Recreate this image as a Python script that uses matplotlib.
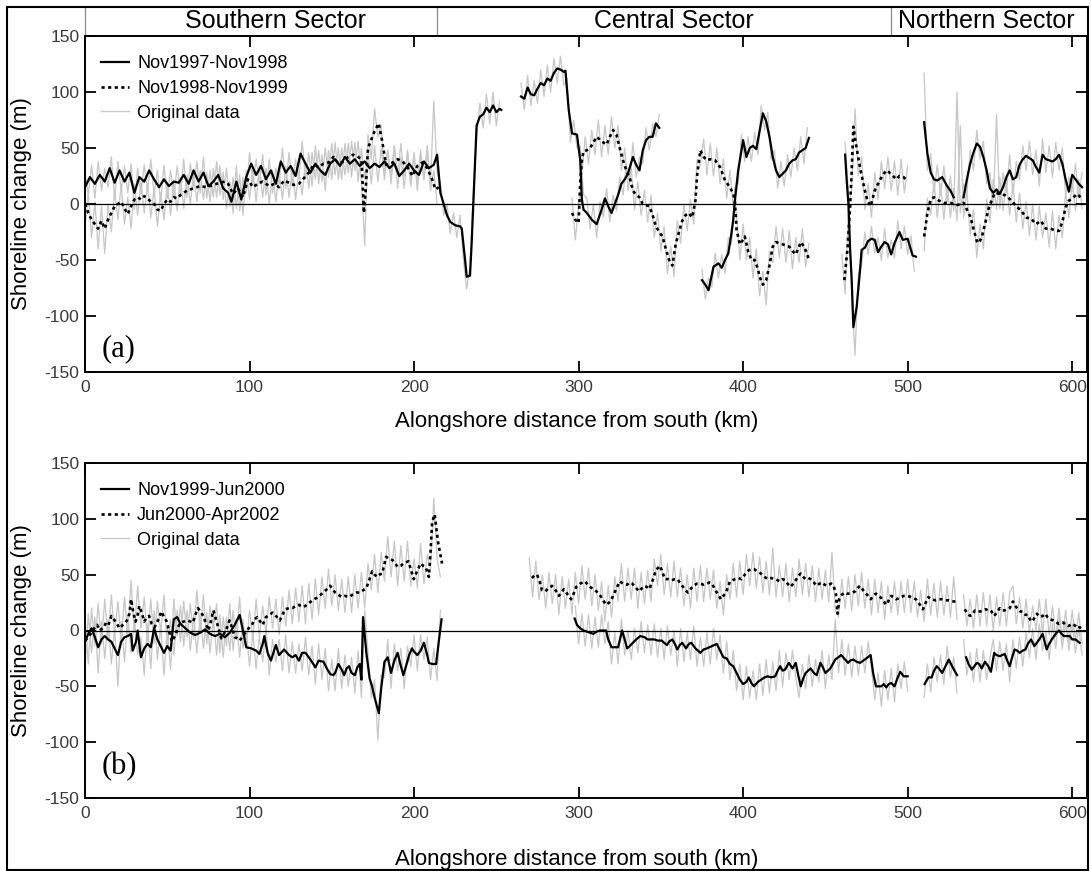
"""Shoreline change along the coast, two panels (a) and (b)."""
import numpy as np
import matplotlib

matplotlib.use("Agg")
import matplotlib.pyplot as plt
from matplotlib.patches import Rectangle

plt.rcParams["font.family"] = ["Liberation Sans", "DejaVu Sans"]
plt.rcParams["axes.unicode_minus"] = False

GAP = (np.nan, np.nan)

# ---------------- panel (a) smoothed series ----------------
a_solid = [  # Nov1997-Nov1998
    (0, 15), (3, 24), (6, 18), (9, 26), (12, 20), (15, 32), (18, 19), (21, 30), (24, 20), (27, 28),
    (30, 10), (33, 24), (36, 20), (39, 30), (42, 22), (45, 15), (48, 22), (51, 16), (54, 20), (57, 19),
    (60, 26), (63, 18), (66, 30), (69, 20), (72, 28), (75, 16), (78, 20), (81, 26), (84, 14), (87, 10),
    (89, 2), (92, 20), (95, 4), (98, 24), (101, 36), (104, 26), (107, 34), (110, 22), (113, 30), (116, 18),
    (119, 38), (122, 28), (125, 34), (128, 25), (131, 45), (134, 36), (137, 28), (140, 36), (143, 30),
    (146, 26), (149, 36), (152, 40), (155, 34), (158, 42), (161, 36), (164, 40), (167, 34), (170, 38),
    (173, 32), (176, 36), (179, 33), (182, 38), (185, 32), (188, 36), (191, 25), (194, 30), (197, 36),
    (200, 30), (203, 26), (206, 38), (209, 32), (212, 35), (214, 44), (216, 10), (218, 0), (220, -10),
    (222, -16), (225, -19), (228, -20), (229, -22), (231, -50), (232, -65), (234, -64), (235, -35),
    (236, 0), (237, 35), (238, 70), (240, 78), (242, 80), (244, 86), (246, 82), (248, 88), (250, 82),
    (252, 85), (253, 84),
    GAP,
    (265, 96), (267, 94), (269, 104), (271, 98), (273, 97), (275, 103), (277, 108), (279, 106),
    (281, 112), (283, 110), (285, 117), (287, 121), (289, 120), (291, 118), (292, 119), (294, 84),
    (296, 63), (299, 62), (301, 39), (302, 4), (303, -5), (305, -8), (308, -14), (311, -18), (314, -5),
    (316, 5), (318, -2), (320, -8), (322, 0), (324, 8), (326, 18), (328, 22), (330, 27), (333, 42),
    (335, 35), (337, 30), (339, 48), (341, 57), (343, 60), (345, 60), (347, 72), (349, 68),
    GAP,
    (375, -68), (377, -72), (379, -77), (382, -56), (385, -53), (387, -57), (389, -50), (391, -44),
    (393, -25), (394, -14), (395, 3), (397, 30), (400, 57), (402, 42), (404, 50), (406, 52), (408, 49),
    (410, 65), (412, 81), (414, 74), (416, 60), (418, 42), (420, 30), (422, 24), (424, 27), (426, 30),
    (428, 36), (430, 39), (432, 40), (434, 46), (436, 48), (438, 50), (440, 59),
    GAP,
    (462, 44), (463, 20), (464, 0), (465, -40), (466, -68), (467, -110), (469, -92), (471, -60),
    (472, -41), (474, -39), (476, -33), (478, -31), (480, -32), (482, -43), (484, -38), (486, -34),
    (488, -36), (490, -45), (492, -35), (495, -25), (497, -32), (500, -31), (503, -46), (505, -47),
    GAP,
    (510, 73), (512, 45), (514, 28), (516, 22), (518, 21), (521, 24), (524, 16), (526, 12), (528, 6),
    GAP,
    (534, 6), (536, 22), (538, 36), (540, 46), (542, 54), (544, 51), (546, 42), (548, 30), (550, 14),
    (552, 10), (554, 13), (556, 9), (558, 15), (560, 24), (562, 30), (564, 22), (566, 24), (568, 35),
    (570, 40), (572, 43), (574, 41), (576, 39), (578, 33), (580, 28), (582, 44), (584, 40), (586, 39),
    (588, 38), (590, 40), (592, 44), (594, 36), (596, 22), (598, 11), (600, 26), (602, 22), (604, 18),
    (606, 15),
]

a_dotted = [  # Nov1998-Nov1999
    (0, 0), (2, -8), (4, -14), (6, -18), (8, -22), (10, -15), (12, -22), (14, -14), (16, -8), (18, -2),
    (20, 0), (22, 2), (24, -4), (26, -9), (28, -2), (30, 4), (32, 6), (34, 4), (36, 7), (38, 5),
    (40, 2), (42, 0), (44, -5), (46, -6), (48, 0), (50, 4), (52, 2), (54, 6), (56, 5), (58, 8),
    (62, 12), (66, 14), (70, 16), (74, 15), (78, 17), (82, 19), (85, 20), (87, 18), (90, 9), (93, 14),
    (96, 6), (99, 22), (102, 15), (105, 18), (108, 20), (112, 16), (115, 18), (118, 15), (121, 21),
    (124, 19), (127, 17), (130, 18), (133, 23), (136, 28), (139, 35), (142, 33), (145, 36), (148, 37),
    (151, 42), (154, 36), (157, 38), (160, 42), (163, 44), (166, 42), (168, 40), (169, 10), (169.5, -8),
    (170.5, 10), (172, 50), (176, 65), (178.5, 72), (180.5, 57), (183, 35), (187, 37), (190, 40),
    (193, 38), (196, 33), (199, 25), (202, 34), (205, 37), (208, 32), (211, 22), (213, 13), (215, 15),
    GAP,
    (296, -8), (298, -14), (300, -17), (301, 20), (302, 39), (303, 47), (305, 48), (307, 50), (309, 55),
    (311, 60), (314, 56), (317, 53), (319, 60), (321, 66), (323, 62), (325, 50), (327, 39), (329, 30),
    (331, 24), (333, 12), (335, 8), (337, 6), (339, 0), (341, -1), (343, -2), (345, -10), (347, -20),
    (349, -25), (351, -29), (353, -40), (355, -50), (357, -55), (359, -36), (361, -25), (363, -15),
    (365, -10), (367, -8), (369, -12), (370, -5), (371, 3), (372, 25), (374, 48), (376, 42), (378, 39),
    (380, 40), (383, 39), (386, 33), (389, 21), (392, 15), (394, 9), (395, 3), (396, -23), (398, -36),
    (400, -32), (401, -29), (403, -42), (405, -50), (407, -50), (409, -58), (410, -65), (412, -72),
    (414, -68), (416, -55), (418, -38), (420, -34), (422, -35), (424, -36), (426, -37), (428, -38),
    (430, -42), (432, -45), (434, -38), (435, -34), (437, -38), (439, -45), (440, -50),
    GAP,
    (461.5, -68), (463.5, -39), (465, -3), (466, 30), (467, 69), (468.5, 54), (471, 33), (473.5, 15),
    (475.5, 3), (477.5, -2), (480, 12), (483, 21), (485, 26), (487, 30), (490, 27), (493, 22),
    (495, 25), (497.5, 24), (499.5, 21),
    GAP,
    (510, -29), (512, -8), (514, 4), (516, 6), (519, 3), (522, 1), (526, 1), (530, -1), (534, 1),
    (536, -5), (538, -11), (540, -22), (542, -33), (543, -35), (545, -30), (547, -18), (549, -5),
    (551, 3), (553, 10), (556, 9), (559, 8), (561, 6), (563, 3), (566, -2), (569, -6), (572, -12),
    (575, -13), (578, -18), (581, -15), (584, -22), (587, -22), (590, -24), (592, -24), (594, -16),
    (596, -3), (598, 3), (600, 5), (603, 9), (605, 6),
]

# ---------------- panel (b) smoothed series ----------------
b_solid = [  # Nov1999-Jun2000
    (0, -10), (2, -3), (4, 2), (6, -6), (8, -15), (10, -8), (12, -5), (14, -8), (16, -10), (18, -16),
    (20, -22), (22, -10), (24, -6), (26, -5), (28, -3), (29, -18), (31, -10), (32, 0), (34, -24),
    (36, -16), (38, -12), (40, -15), (42, 2), (44, -8), (46, -14), (48, -20), (50, -14), (52, -18),
    (54, 10), (56, 12), (58, 6), (61, 2), (64, -2), (67, -4), (70, -2), (73, 1), (76, -3), (79, -5),
    (82, -3), (85, -6), (88, -2), (91, 5), (94, 14), (96, 0), (98, -15), (101, -16), (104, -18),
    (106, -21), (108, -12), (109, -5), (111, -20), (113, -27), (116, -13), (118, -22), (121, -17),
    (124, -22), (126, -24), (128, -22), (130, -27), (132, -20), (134, -20), (137, -26), (140, -33),
    (142, -27), (145, -28), (147, -34), (149, -39), (151, -40), (152, -38), (154, -30), (156, -35),
    (157.5, -40), (159, -34), (160.5, -32), (162, -38), (164, -40), (165.5, -33), (167, -30),
    (168, -44), (169, 12), (171, -20), (173, -43), (174.5, -50), (176, -60), (178.6, -74), (180, -52),
    (182, -28), (184, -24), (186, -38), (188, -27), (190, -20), (192, -32), (193.5, -40), (195.5, -30),
    (197, -22), (198.7, -16), (200, -19), (202, -22), (204, -18), (206, -11), (208, -22), (209, -29),
    (211, -30), (213.4, -30), (215, -10), (216.7, 10),
    GAP,
    (297.6, 10.7), (299, 5), (301, 2), (303, 0), (305, -1), (307, -2), (309, -3), (311, -1), (313, 0),
    (316.7, 0), (318, -8), (320, -15), (322, -15), (324, -15), (326.5, 0), (328, -8), (329.5, -16),
    (331, -14), (333, -11), (335, -8), (337.5, -5), (340, -6), (342, -8), (344, -8), (346, -8),
    (348, -9), (350.5, -9), (352, -11), (353.7, -13), (355, -10), (357, -8), (358.5, -12), (360, -17),
    (361.5, -13), (363, -11), (365.3, -16), (367, -12), (368.5, -11), (371, -16), (374, -20),
    (376, -17), (378, -16), (381, -14), (384, -12), (386, -18), (388, -24), (390, -25), (392, -30),
    (394, -32), (396, -38), (398, -44), (400, -48), (402, -46), (403.4, -42), (405, -47), (406.6, -50),
    (409, -46), (411, -44), (413, -42), (415, -41), (417, -42), (419.5, -41), (421, -36), (422.5, -32),
    (424, -36), (425.5, -35), (427.8, -29), (430, -34), (432, -29), (433.5, -40), (435, -50),
    (436.5, -43), (438, -38), (441, -34), (443, -38), (444.7, -40), (447, -29), (448.5, -33),
    (450, -38), (453, -34), (456, -26), (459.6, -22), (462, -26), (463.8, -29), (465, -27), (467, -26),
    (469, -28), (471, -29), (474, -26), (477.5, -22), (479, -38), (480.7, -50), (482, -50), (484, -50),
    (485.5, -48), (487, -51), (488.5, -48), (490, -47), (492, -50), (494, -42), (495.5, -37),
    (497.6, -41), (500, -41),
    GAP,
    (510.3, -48), (512.6, -42), (514.6, -42), (516, -36), (517.7, -32), (519, -34), (521, -38),
    (523, -32), (525, -26), (527, -32), (528.5, -36), (530, -40),
    GAP,
    (535.5, -24), (537, -30), (539, -35), (540.5, -32), (542, -29), (543.5, -30), (545, -34), (547, -28),
    (549, -32), (550.6, -37), (552.6, -20), (554, -22), (556, -23), (557.5, -22), (559, -21),
    (560.5, -27), (562, -32), (563.5, -24), (565, -17), (566.5, -18), (568, -20), (570, -18),
    (571.6, -17), (573, -12), (575, -8), (577, -14), (578.5, -11), (580, -8), (582, -3), (584.5, -17),
    (586, -12), (587.6, -8), (589, -5), (590.5, -2), (592, 0), (593.5, -3), (595, -5), (597, -5),
    (598.5, -5), (600, -8), (602, -8), (604.5, -11),
]

b_dotted = [  # Jun2000-Apr2002
    (0, -9), (2, -6), (4, -2), (6, 3), (7.4, 5), (9, 0), (11.6, 3), (13, 8), (14.5, 6), (16, 13),
    (17.5, 10), (19, 7), (21, 2), (23, 5), (25.5, 9), (27, 15), (28, 28), (29.5, 15), (30.7, 8),
    (32, 14), (33, 22), (34.5, 16), (36, 8), (37.5, 12), (39, 13), (40.5, 6), (42.3, 3), (44, 8),
    (46.5, 17), (48, 12), (49.7, 8), (51, 0), (52.9, -10), (55, -4), (56.5, 3), (58, 7), (60, 8),
    (62.4, 9), (64, 8), (65.6, 7), (67, 14), (68.7, 20), (70, 17), (72, 13), (73.5, 6), (75, 0),
    (76.5, 8), (78, 18), (80, 8), (82.8, -7), (84, -4), (85.7, 0), (87.8, 9), (89.5, 2), (91, -6),
    (92.5, -7), (94, -9), (96, -5), (98.4, 0), (100, 3), (101.5, 5), (103, 10), (104.8, 12), (106.5, 8),
    (108, 5), (110, 12), (112, 14), (114, 16), (116, 13), (118.4, 9), (120, 14), (121.6, 19), (124, 20),
    (126, 20), (128, 22), (130, 23), (132, 21), (134, 22), (135.5, 24), (137.4, 26), (139, 28),
    (140.6, 29), (142.5, 31), (144.8, 34), (147, 37), (149, 40), (150.5, 37), (152, 34), (154, 32),
    (156, 30), (158, 31), (160.5, 30), (162.5, 32), (165, 34), (167, 34), (168, 35), (171, 38),
    (172.5, 44), (174.5, 53), (176, 50), (177.5, 48), (179, 50), (180.6, 51), (182, 60), (183, 66),
    (185, 64), (187, 63), (188.5, 60), (190, 57), (192, 58), (193.5, 60), (195, 61), (196.6, 62),
    (198, 55), (199.8, 46), (201.5, 52), (204, 60), (205.5, 58), (207, 57), (209, 48), (210, 70),
    (211, 97), (212.5, 104), (214.6, 79), (217, 60),
    GAP,
    (271.6, 47), (273, 49), (274.8, 50), (276.5, 43), (277.8, 36), (279.6, 35), (282, 38), (283.8, 40),
    (286, 36), (288, 31), (289.5, 34), (291, 37), (293, 33), (295.4, 28), (297, 33), (298.5, 39),
    (301, 42), (304, 44), (305.5, 41), (307, 39), (310, 36), (312.5, 33), (314.5, 28), (316.7, 23),
    (318.5, 25), (320, 28), (322.5, 36), (325, 44), (327, 42), (329.5, 41), (331, 43), (332.6, 42),
    (335, 38), (337, 35), (338.5, 38), (340, 40), (341.5, 39), (343, 37), (345, 45), (347, 54),
    (349.5, 58), (351, 52), (352.5, 46), (354.5, 46), (356.7, 45), (358.5, 46), (360, 46), (361.5, 43),
    (363, 40), (364.5, 37), (366.4, 34), (368, 37), (369.6, 40), (372, 42), (373.8, 42), (376, 41),
    (378, 42), (379.5, 43), (381, 42), (382.5, 38), (384, 34), (386.5, 28), (388, 31), (389.6, 34),
    (392, 44), (393.5, 45), (395, 46), (397, 47), (399, 46), (401, 50), (403.5, 54), (405, 55),
    (406.6, 55), (408.5, 53), (410.8, 51), (413, 48), (415, 46), (417, 47), (419.5, 46), (421, 45),
    (422.5, 44), (424, 46), (425.5, 45), (427, 42), (428.8, 39), (430.5, 42), (432, 45), (433.5, 49),
    (435, 51), (436.5, 48), (438, 46), (439.5, 47), (441, 46), (443, 43), (444.7, 40), (446.5, 42),
    (448, 43), (449.5, 41), (451, 40), (453.5, 42), (455, 40), (456.4, 33), (457.4, 15), (458.4, 28),
    (460, 32), (461.6, 34), (463, 33), (464.8, 33), (466.5, 34), (468, 35), (469.5, 38), (471, 40),
    (472.5, 37), (474, 34), (476, 31), (477.6, 28), (479, 31), (480.7, 33), (482.5, 31), (484, 29),
    (485.5, 26), (487, 23), (488.5, 27), (490, 31), (491.5, 30), (493, 28), (495, 29), (497.6, 31),
    (500, 31), (501.9, 30), (503.5, 29), (505, 28), (507, 24), (509.3, 19), (511, 25), (512.6, 30),
    (514.5, 28), (516.8, 27), (519, 28), (521, 28), (523, 27), (525, 27), (527, 26), (529.5, 26),
    GAP,
    (534.7, 19), (536, 16), (538, 13), (539.5, 15), (541, 18), (542.5, 17), (544, 17), (546, 18),
    (547.4, 19), (549, 18), (550.6, 18), (552.6, 13), (554.5, 17), (556, 20), (557.5, 18), (559, 18),
    (560.5, 19), (562, 20), (564, 26), (565.5, 22), (567, 19), (568.5, 17), (570, 17), (571.6, 14),
    (573, 14), (575, 8), (576.5, 10), (578.6, 15), (580.5, 12), (582, 13), (583.6, 15), (585, 12),
    (586.6, 10), (588.6, 9), (590, 8), (591.7, 6), (593, 7), (594.7, 7), (596, 5), (597.8, 4), (599, 5),
    (600.4, 6), (602, 4), (603, 2), (604.5, 3), (606, 1),
]

# ---------------- original (unsmoothed) data, 2 km spacing ----------------
GREY_STEP = 2

a_grey1_starts = [0, 265, 375, 462, 510]
a_grey1 = [
    [28, 8, 35, 5, 38, 12, 32, 15, 42, 5, 38, 12, 34, 10, 36, -5, 32, 8, 35, 12, 40, 8, 30, 2, 35, 5,
     30, 6, 34, 8, 40, 6, 36, 15, 38, 10, 42, 5, 30, 6, 38, 8, 28, -4, 20, -8, 34, -6, 24, 10, 46, 18,
     40, 18, 44, 8, 40, 10, 32, 18, 50, 14, 46, 16, 40, 22, 56, 22, 46, 16, 52, 18, 44, 12, 48, 22, 55,
     22, 50, 26, 54, 24, 55, 20, 50, 22, 48, 18, 52, 20, 50, 22, 48, 18, 52, 14, 42, 14, 48, 18, 46,
     12, 44, 22, 52, 18, 92, 28, 20, -10, 0, -26, -8, -30, -10, -50, -76, -55, 10, 58, 90, 68, 98, 72,
     100, 70, 92],
    [108, 84, 115, 88, 110, 90, 120, 96, 124, 100, 130, 108, 132, 106, 112, 55, 75, 50, 52, 8, 5, -22,
     0, -30, 2, -12, 14, -16, 8, -6, 24, 8, 36, 18, 55, 24, 42, 36, 68, 48, 72, 60, 80],
    [-58, -85, -66, -74, -44, -66, -45, -62, -30, -36, 15, 18, 62, 38, 60, 38, 64, 44, 88, 66, 82, 40,
     48, 14, 38, 16, 44, 24, 50, 30, 60, 36, 68],
    [55, 10, -80, -135, -62, -55, -25, -45, -20, -44, -30, -50, -22, -48, -32, -48, -15, -40, -20, -45,
     -28, -60],
    [117, 30, 45, 10, 35, 8, 34, 2, 25, -6, 100, -8, 18, 10, 48, 30, 66, 40, 56, 18, 28, -2, 80, -4, 28,
     10, 44, 8, 38, 22, 52, 30, 56, 26, 48, 16, 58, 28, 52, 24, 55, 30, 50, 8, 24, 12, 36, 6, 28],
]

a_grey2_starts = [0, 296, 460, 510]
a_grey2 = [
    [-20, 10, -30, 2, -40, -2, -44, 0, -25, 12, -14, 18, -18, 6, -22, 18, -10, 20, -8, 18, -12, 14,
     -20, 10, -14, 18, -10, 20, -6, 24, -4, 26, 0, 28, 2, 30, 4, 28, 2, 32, 6, 34, 4, 32, -2, 24, -4,
     26, -10, 30, 4, 30, 2, 34, 6, 32, 0, 30, 2, 28, 4, 34, 6, 32, 4, 30, 8, 38, 14, 46, 22, 48, 20, 50,
     24, 54, 26, 50, 22, 54, 28, 56, 30, 56, 20, -37, 62, 40, 85, 60, 70, 28, 48, 24, 52, 26, 54, 24,
     46, 16, 42, 20, 48, 22, 46, 12, 30, 0],
    [5, -32, -2, 25, 60, 36, 66, 44, 75, 42, 70, 44, 78, 50, 70, 30, 50, 12, 32, -5, 20, -10, 12, -16,
     8, -30, -8, -42, -20, -62, -38, -65, -15, -35, 0, -24, 4, -18, 40, 34, 58, 26, 54, 25, 50, 18, 40,
     5, 30, -4, -8, -50, -18, -50, -30, -66, -40, -82, -60, -90, -42, -52, -20, -48, -22, -52, -24, -58,
     -30, -52, -22, -56, -35],
    [-45, -80, -5, 15, 85, 25, 42, -5, 18, -12, 28, 4, 38, 14, 42, 12, 38, 8, 40, 10, 34],
    [-42, 5, -10, 20, -12, 18, -14, 16, -12, 14, -15, 70, -12, 12, -28, -5, -48, -18, -40, 4, -16, 22,
     -5, 24, -6, 22, -10, 18, -16, 10, -22, 2, -28, 0, -32, -2, -30, -8, -38, -6, -40, -10, -30, 10, -12,
     20, -6, 22, -4],
]

b_grey1_starts = [0, 298, 510, 534]
b_grey1 = [
    [-35, 15, -20, 12, -38, 8, -25, 10, -30, 2, -50, 8, -28, 14, -20, 10, -22, -6, -40, 6, -34, 18, -26,
     4, -40, 2, -35, 28, -5, 22, -14, 18, -18, 14, -20, 14, -16, 16, -20, 12, -22, 14, -24, 12, -18, 18,
     -8, 30, -16, 0, -32, -2, -34, -6, -28, 2, -40, -8, -28, -8, -36, -4, -38, -10, -38, -12, -36, -6,
     -40, -14, -48, -12, -44, -16, -54, -26, -54, -16, -52, -22, -50, -24, -56, -18, -60, 18, -20, -60,
     -44, -98, -40, -42, -8, -52, -12, -36, -16, -52, -14, -32, -4, -36, -4, -26, -6, -44, -16, -45, 18],
    [22, -12, 15, -14, 14, -16, 12, -15, 14, -12, 8, -30, -2, -30, 10, -22, 0, -26, 2, -20, 8, -20, 5,
     -22, 6, -24, 2, -26, 4, -22, 0, -32, 2, -28, -2, -26, 4, -32, -6, -32, -2, -30, 2, -26, -4, -38,
     -10, -44, -18, -54, -30, -62, -32, -60, -36, -62, -30, -58, -26, -56, -28, -54, -18, -50, -20, -44,
     -18, -42, -60, -30, -52, -22, -50, -26, -46, -18, -52, -22, -44, 10, -38, -8, -40, -12, -42, -14,
     -40, -14, -38, -10, -34, -62, -38, -68, -36, -62, -34, -64, -30, -52, -28, -54],
    [-60, -30, -55, -24, -46, -22, -48, -14, -42, -24, -56],
    [-8, -40, -20, -46, -16, -46, -18, -44, -24, -8, -36, -10, -36, -12, -46, -8, -34, -6, -32, -2, -24,
     2, -26, 6, -18, -2, -26, 6, -16, 12, -16, 8, -18, 6, -20, 2, -22],
]

b_grey2_starts = [0, 270, 534]
b_grey2 = [
    [10, -30, 20, -14, 24, -12, 28, -8, 32, -4, 26, -10, 30, -4, 45, -2, 40, 2, 30, -10, 28, -12, 26, -2,
     32, -14, 10, -22, 18, -10, 26, -6, 24, -8, 36, 0, 32, -12, 22, 2, 24, -20, 12, -14, 24, -18, 10,
     -24, 10, -16, 18, -8, 28, -6, 22, -2, 30, 2, 28, -4, 30, 4, 36, 6, 38, 8, 40, 6, 42, 10, 46, 14, 48,
     20, 55, 22, 50, 18, 46, 16, 48, 16, 50, 20, 52, 20, 60, 36, 68, 34, 70, 44, 84, 48, 80, 40, 76, 44,
     80, 40, 64, 38, 78, 42, 68, 55, 118, 64, 48],
    [65, 30, 62, 28, 50, 20, 52, 24, 50, 14, 48, 20, 46, 14, 52, 24, 58, 28, 56, 22, 50, 18, 44, 8, 40,
     12, 48, 26, 60, 26, 56, 28, 56, 20, 52, 24, 54, 26, 64, 40, 68, 32, 60, 30, 62, 30, 56, 22, 50, 20,
     56, 26, 58, 26, 56, 28, 54, 20, 44, 14, 50, 28, 60, 30, 62, 32, 68, 40, 70, 38, 66, 34, 62, 32, 74,
     30, 58, 30, 60, 26, 56, 30, 64, 32, 60, 30, 58, 26, 56, 28, 54, 26, 70, 18, 12, 46, 20, 48, 18, 50,
     22, 52, 20, 46, 14, 46, 16, 44, 10, 40, 16, 44, 14, 44, 16, 46, 16, 44, 12, 36, 8, 46, 14, 42, 12,
     44, 14, 40, 12, 48, 10],
    [32, 4, 28, 2, 32, 4, 34, 4, 32, 0, 30, 4, 34, 4, 34, 40, 6, 30, 2, 28, -2, 22, 0, 28, -2, 28, -4, 22,
     -6, 20, -8, 18, -10, 18, -10, 16, -12],
]

legend_a = ["Nov1997-Nov1998", "Nov1998-Nov1999", "Original data"]
legend_b = ["Nov1999-Jun2000", "Jun2000-Apr2002", "Original data"]
sectors = ["Southern Sector", "Central Sector", "Northern Sector"]
sector_bounds = [214, 490]          # km, dividing lines in the header strip
sector_text_x = [116, 358, 548]     # km, label centres
y_ticks = [-150, -100, -50, 0, 50, 100, 150]
x_ticks = [0, 100, 200, 300, 400, 500, 600]

W, H = 1091, 871
GREY = "#c8c8c8"
TICK_GREY = "#3a3a3a"


def _xy(pairs):
    arr = np.array(pairs, dtype=float)
    return arr[:, 0], arr[:, 1]


def _grey_xy(starts, segs):
    xs, ys = [], []
    for s, vals in zip(starts, segs):
        xs.append(s + GREY_STEP * np.arange(len(vals)))
        ys.append(np.asarray(vals, dtype=float))
        xs.append([np.nan]); ys.append([np.nan])
    return np.concatenate(xs), np.concatenate(ys)


def _panel(ax, solid, dotted, g1, g2, labels, tag, tag_y):
    gx1, gy1 = _grey_xy(*g1)
    gx2, gy2 = _grey_xy(*g2)
    g, = ax.plot(gx1, gy1, color=GREY, lw=0.95, zorder=1)
    ax.plot(gx2, gy2, color=GREY, lw=0.95, zorder=1)
    ax.axhline(0, color="black", lw=0.9, zorder=2)
    sx, sy = _xy(solid)
    dx, dy = _xy(dotted)
    l1, = ax.plot(sx, sy, color="black", lw=1.6, zorder=3)
    l2, = ax.plot(dx, dy, color="black", lw=1.9, ls=(0, (1.2, 1.3)), zorder=3)

    ax.set_xlim(0, 609)
    ax.set_ylim(-150, 150)
    ax.set_xticks(x_ticks)
    ax.set_yticks(y_ticks)
    ax.tick_params(direction="in", length=8, width=1.3, top=True, right=True,
                   labelsize=12.5, labelcolor=TICK_GREY, color="black")
    ax.tick_params(axis="x", pad=6)
    ax.tick_params(axis="y", pad=4)
    for sp in ax.spines.values():
        sp.set_linewidth(1.4)

    ax.legend([l1, l2, g], labels, loc="upper left", bbox_to_anchor=(0.016, 0.942),
              frameon=False, fontsize=13, handlelength=1.55, handletextpad=0.45,
              labelspacing=0.42, borderpad=0, borderaxespad=0)
    ax.text(0.017, tag_y, tag, transform=ax.transAxes, ha="left", va="center",
            fontsize=22, family=["Liberation Serif", "DejaVu Serif"])


fig = plt.figure(figsize=(W / 100, H / 100), dpi=100)
ax_a = fig.add_axes([85 / W, 1 - 372 / H, 1002 / W, 336 / H])
ax_b = fig.add_axes([85 / W, 1 - 798 / H, 1002 / W, 335 / H])

_panel(ax_a, a_solid, a_dotted, (a_grey1_starts, a_grey1), (a_grey2_starts, a_grey2),
       legend_a, "(a)", 0.068)
_panel(ax_b, b_solid, b_dotted, (b_grey1_starts, b_grey1), (b_grey2_starts, b_grey2),
       legend_b, "(b)", 0.093)

# header strip with sector names above panel (a)
top = (372 - 7) / 336
ax_a.vlines([0] + sector_bounds, 1, top, transform=ax_a.get_xaxis_transform(),
            colors="#8c8c8c", lw=0.9, clip_on=False)
for name, xc in zip(sectors, sector_text_x):
    ax_a.text(xc, (1 + top) / 2, name, transform=ax_a.get_xaxis_transform(),
              ha="center", va="center", fontsize=18, clip_on=False)

for yc in (204, 631):
    fig.text(22 / W, 1 - yc / H, "Shoreline change (m)", rotation=90,
             ha="center", va="center", fontsize=16)
for yc in (421, 859):
    fig.text(577 / W, 1 - yc / H, "Alongshore distance from south (km)",
             ha="center", va="center", fontsize=16)

fig.add_artist(Rectangle((7 / W, 1.5 / H), (1088 - 7) / W, (869.5 - 7) / H,
                         transform=fig.transFigure, fill=False, lw=1.5, ec="black"))

fig.savefig("out.png", dpi=100)
plt.close(fig)
